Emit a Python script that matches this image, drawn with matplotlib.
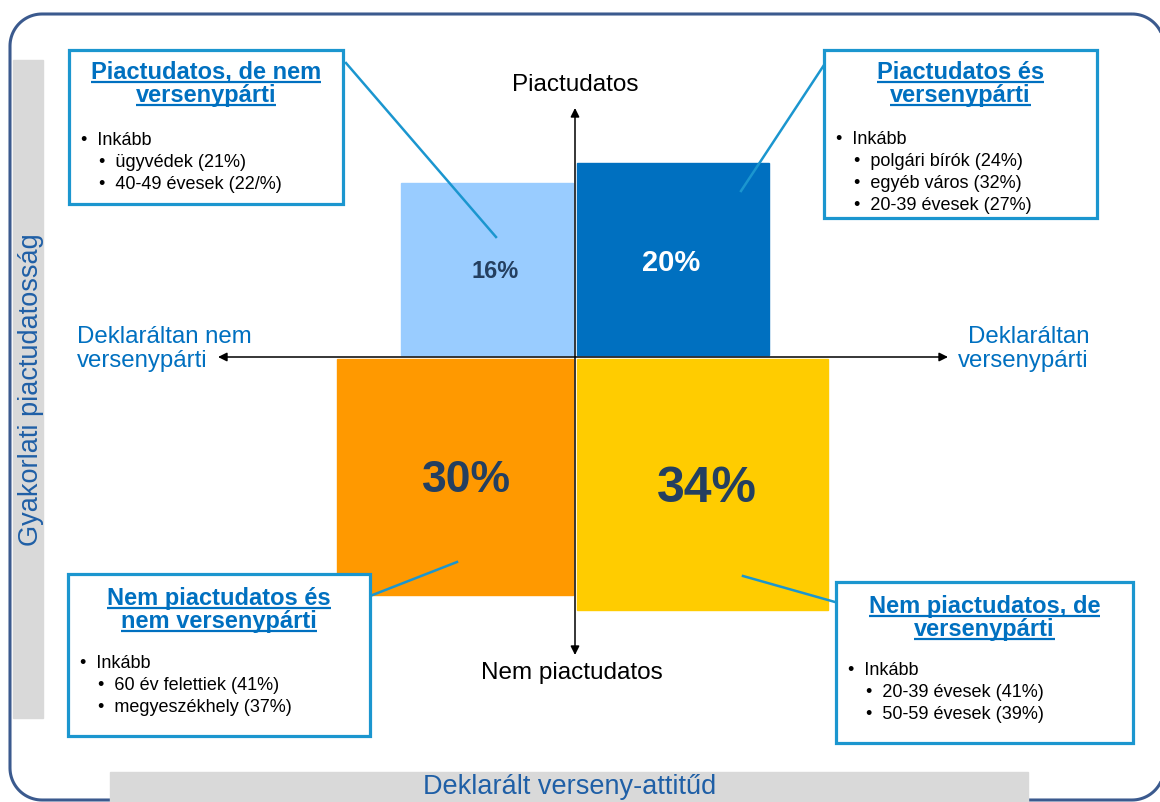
import matplotlib.pyplot as plt
from matplotlib.patches import Rectangle, Polygon
import numpy as np

plt.rcParams['font.family'] = ['Liberation Sans', 'DejaVu Sans']

# adatok
shares = [16, 20, 30, 34]
share_labels = ['16%', '20%', '30%', '34%']
titles = [['Piactudatos, de nem', 'versenypárti'],
          ['Piactudatos és', 'versenypárti'],
          ['Nem piactudatos és', 'nem versenypárti'],
          ['Nem piactudatos, de', 'versenypárti']]
lead = 'Inkább'
details = [['ügyvédek (21%)', '40-49 évesek (22/%)'],
           ['polgári bírók (24%)', 'egyéb város (32%)', '20-39 évesek (27%)'],
           ['60 év felettiek (41%)', 'megyeszékhely (37%)'],
           ['20-39 évesek (41%)', '50-59 évesek (39%)']]
axis_top = 'Piactudatos'
axis_bottom = 'Nem piactudatos'
axis_left = 'Deklaráltan nem\nversenypárti'
axis_right = 'Deklaráltan\nversenypárti'
y_title = 'Gyakorlati piactudatosság'
x_title = 'Deklarált verseny-attitűd'

# kinezet
sq_colors = ['#99ccff', '#0070c0', '#ff9900', '#ffcc00']
lbl_colors = ['#243f60', 'white', '#243f60', '#243f60']
lbl_sizes = [17, 21, 32, 36]
lbl_shift = [(8, 3), (-2, 4), (11, 4), (5, 5)]
dirs = [(-1, -1), (1, -1), (-1, 1), (1, 1)]
boxes = [(69, 50, 343, 204), (824, 50, 1097, 218),
         (68, 574, 370, 736), (836, 582, 1133, 743)]
title_off = [(29, 52), (29, 52), (31, 54), (31, 54)]
lead_off = [95, 94, 94, 93]
connectors = [((346, 63), (496, 237)), ((826, 62), (741, 191)),
              ((370, 596), (457, 562)), ((743, 576), (835, 602))]
blue = '#0070c0'
box_edge = '#1b96cf'
cx, cy = 575, 357
scale = 43
gap = 2

fig = plt.figure(figsize=(11.6, 8.02), dpi=100)
ax = fig.add_axes([0, 0, 1, 1])
ax.set_xlim(0, 1160)
ax.set_ylim(802, 0)
ax.axis('off')


def rounded_outline(x0, y0, x1, y1, rad, n=24):
    # lekerekitett keret pontjai
    pts = []
    corners = [(x1 - rad, y0 + rad, -90, 0), (x1 - rad, y1 - rad, 0, 90),
               (x0 + rad, y1 - rad, 90, 180), (x0 + rad, y0 + rad, 180, 270)]
    for ccx, ccy, a0, a1 in corners:
        t = np.radians(np.linspace(a0, a1, n))
        pts += list(zip(ccx + rad * np.cos(t), ccy + rad * np.sin(t)))
    return np.array(pts)


# keret
ax.add_patch(Polygon(rounded_outline(10, 14, 1164, 800, 32), closed=True, fill=False,
                     edgecolor='#3b5a8e', lw=2.2, zorder=1, clip_on=False))
ax.add_patch(Rectangle((13, 60), 30, 658, color='#d9d9d9', zorder=2))
ax.add_patch(Rectangle((110, 772), 918, 40, color='#d9d9d9', zorder=2))
ax.text(31, 390, y_title, rotation=90, ha='center', va='center', fontsize=19.5,
        color='#1f5fa6', zorder=3)
ax.text(570, 787, x_title, ha='center', va='center', fontsize=19.5, color='#1f5fa6', zorder=3)

# negyzetek
for i, s in enumerate(shares):
    side = scale * np.sqrt(s)
    sx, sy = dirs[i]
    x0 = cx + gap if sx > 0 else cx - gap - side
    y0 = cy + gap if sy > 0 else cy - gap - side
    ax.add_patch(Rectangle((x0, y0), side, side, color=sq_colors[i], zorder=2))
    ax.text(x0 + side / 2 + lbl_shift[i][0], y0 + side / 2 + lbl_shift[i][1], share_labels[i],
            ha='center', va='center', fontsize=lbl_sizes[i], fontweight='bold',
            color=lbl_colors[i], zorder=4)

# tengelyek
ax.annotate('', xy=(218, cy), xytext=(948, cy),
            arrowprops=dict(arrowstyle='<|-|>', color='black', lw=1.1, mutation_scale=13,
                            shrinkA=0, shrinkB=0), zorder=5)
ax.annotate('', xy=(cx, 108), xytext=(cx, 655),
            arrowprops=dict(arrowstyle='<|-|>', color='black', lw=1.1, mutation_scale=13,
                            shrinkA=0, shrinkB=0), zorder=5)
ax.text(cx, 85, axis_top, ha='center', va='center', fontsize=17.5)
ax.text(572, 673, axis_bottom, ha='center', va='center', fontsize=17.5)
ax.text(77, 349, axis_left, ha='left', va='center', fontsize=17.3, color=blue, linespacing=1.15)
ax.text(1089, 349, axis_right, ha='right', va='center', fontsize=17.3, color=blue,
        linespacing=1.15, multialignment='right')

# dobozok
title_texts = []
for i, (x0, y0, x1, y1) in enumerate(boxes):
    ax.add_patch(Rectangle((x0, y0), x1 - x0, y1 - y0, facecolor='white',
                           edgecolor=box_edge, lw=2.3, zorder=6))
    (ax_, ay_), (bx_, by_) = connectors[i]
    ax.plot([ax_, bx_], [ay_, by_], color=box_edge, lw=1.8, zorder=5)
    mid = (x0 + x1) / 2
    for line, off in zip(titles[i], title_off[i]):
        t = ax.text(mid, y0 + off, line, ha='center', va='baseline', fontsize=17,
                    fontweight='bold', color=blue, zorder=7)
        title_texts.append((t, y0 + off))
    ax.text(x0 + 12, y0 + lead_off[i], '•  ' + lead, ha='left', va='baseline',
            fontsize=13, zorder=7)
    for j, d in enumerate(details[i]):
        ax.text(x0 + 30, y0 + lead_off[i] + 22 * (j + 1), '•  ' + d, ha='left',
                va='baseline', fontsize=13, zorder=7)

# alahuzas
fig.canvas.draw()
r = fig.canvas.get_renderer()
inv = ax.transData.inverted()
for t, yb in title_texts:
    bb = t.get_window_extent(renderer=r)
    xa = inv.transform((bb.x0, 0))[0]
    xb = inv.transform((bb.x1, 0))[0]
    ax.plot([xa, xb], [yb + 3, yb + 3], color=blue, lw=1.6, zorder=8, solid_capstyle='butt')

fig.savefig('out.png', dpi=100)
